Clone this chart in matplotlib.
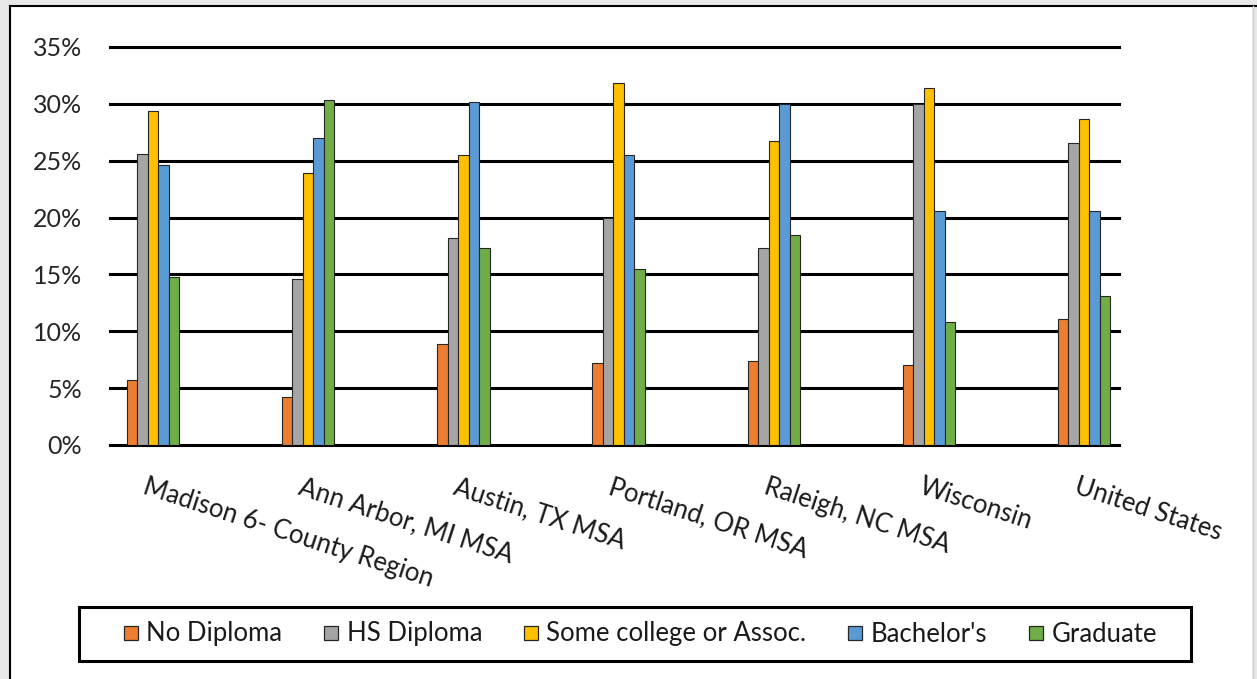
import numpy as np
import matplotlib.pyplot as plt
from matplotlib.patches import Rectangle
from matplotlib.lines import Line2D

plt.rcParams['font.family'] = ['Lato', 'DejaVu Sans']

regions = ["Madison 6- County Region", "Ann Arbor, MI MSA", "Austin, TX MSA",
           "Portland, OR MSA", "Raleigh, NC MSA", "Wisconsin", "United States"]
series = ["No Diploma", "HS Diploma", "Some college or Assoc.", "Bachelor's", "Graduate"]
colors = ["#ED7D31", "#A5A5A5", "#FFC000", "#5B9BD5", "#70AD47"]

no_diploma = [5.7, 4.2, 8.9, 7.2, 7.4, 7.0, 11.1]
hs_diploma = [25.6, 14.6, 18.2, 20.0, 17.3, 30.0, 26.6]
some_college = [29.4, 23.9, 25.5, 31.8, 26.7, 31.4, 28.7]
bachelors = [24.6, 27.0, 30.2, 25.5, 30.0, 20.6, 20.6]
graduate = [14.8, 30.3, 17.3, 15.5, 18.5, 10.8, 13.1]
values = [no_diploma, hs_diploma, some_college, bachelors, graduate]

yticks = [0, 5, 10, 15, 20, 25, 30, 35]

W, H = 1257, 679
fig = plt.figure(figsize=(W / 100, H / 100), dpi=100, facecolor="#e8e8e8")

# chart area frame
fig.patches.append(Rectangle((10 / W, 0), 1242 / W, 1 - 6 / H, transform=fig.transFigure,
                             facecolor="white", edgecolor="none", zorder=-2))
fig.lines.append(Line2D([10 / W, 10 / W], [0, 1 - 6 / H], transform=fig.transFigure, color="black", lw=1.5))
fig.lines.append(Line2D([10 / W, 1], [1 - 6 / H, 1 - 6 / H], transform=fig.transFigure, color="black", lw=1.5))
fig.lines.append(Line2D([1253 / W, 1253 / W], [0, 1 - 6 / H], transform=fig.transFigure, color="#cfcfcf", lw=1))
# legend box
fig.patches.append(Rectangle((79 / W, 1 - 661 / H), 1112 / W, 54 / H, transform=fig.transFigure,
                             facecolor="white", edgecolor="black", lw=2.2, zorder=-1))

ax = fig.add_axes([110 / W, 1 - 445 / H, 1009 / W, 398 / H])
ax.set_facecolor("none")

x = np.arange(len(regions))
bw = 10.5 / 155.2
for j, (name, vals, c) in enumerate(zip(series, values, colors)):
    ax.bar(x + (j - 2) * bw, vals, width=bw, color=c, edgecolor="#262626", linewidth=0.8,
           label=name, zorder=3)

for t in yticks:
    ax.axhline(t, color="black", lw=2.2, zorder=2, clip_on=False)

ax.set_xlim((110 - 153) / 155.2, (1119 - 153) / 155.2)
ax.set_ylim(0, 35)
ax.set_yticks(yticks)
ax.set_yticklabels([f"{t}%" for t in yticks], fontsize=18, color="#262626")
ax.tick_params(axis="y", length=0, pad=20)
ax.set_xticks([])
for s in ax.spines.values():
    s.set_visible(False)

for i, name in enumerate(regions):
    ax.text(i - 5 / 155.2, -29 / 398, name, transform=ax.get_xaxis_transform(),
            rotation=-18, rotation_mode="anchor", ha="left", va="top",
            fontsize=18.5, color="#1a1a1a")

handles = [Line2D([], [], marker="s", linestyle="none", markersize=10.5,
                  markerfacecolor=c, markeredgecolor="#262626", markeredgewidth=0.9)
           for c in colors]
leg = fig.legend(handles, series, loc="center", bbox_to_anchor=(640 / W, 1 - 634 / H), ncol=5,
                 fontsize=18.5, frameon=False,
                 handlelength=0.6, handletextpad=0.3,
                 columnspacing=1.6, borderpad=0.3)
for t in leg.get_texts():
    t.set_color("#1a1a1a")

fig.savefig("out.png", dpi=100, facecolor=fig.get_facecolor())
